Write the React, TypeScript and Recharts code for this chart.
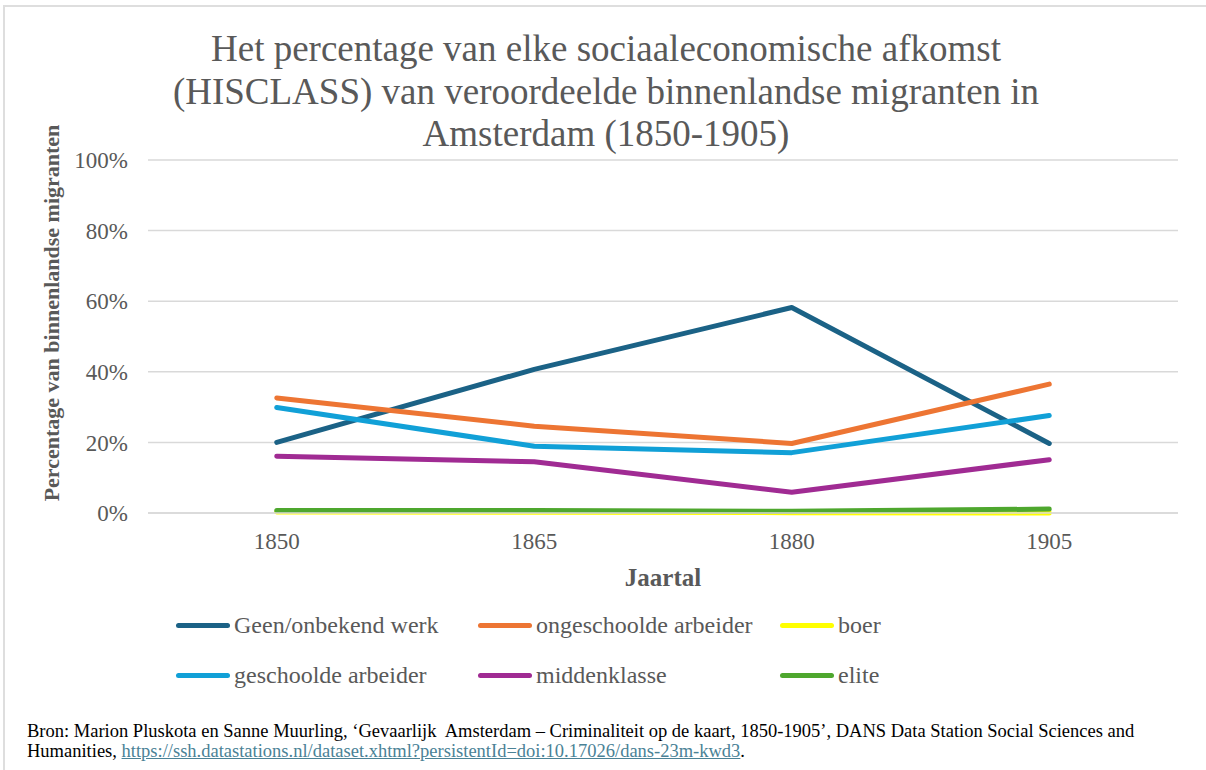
import React from "react";
import { LineChart, Line, XAxis, YAxis, CartesianGrid } from "recharts";

const years = ["1850", "1865", "1880", "1905"];
const geen = [20.0, 40.7, 58.2, 19.7];
const ongeschoold = [32.6, 24.6, 19.7, 36.5];
const boer = [0.3, 0.2, 0.1, 0.0];
const geschoold = [29.9, 18.9, 17.1, 27.6];
const midden = [16.1, 14.5, 5.9, 15.1];
const elite = [0.7, 0.7, 0.5, 1.1];
const yTicks = [0, 20, 40, 60, 80, 100];

const series = [
  { key: "geen", name: "Geen/onbekend werk", color: "#1B6286", values: geen },
  { key: "ongeschoold", name: "ongeschoolde arbeider", color: "#ED7533", values: ongeschoold },
  { key: "boer", name: "boer", color: "#FFFF00", values: boer },
  { key: "geschoold", name: "geschoolde arbeider", color: "#11A0D7", values: geschoold },
  { key: "midden", name: "middenklasse", color: "#A02B93", values: midden },
  { key: "elite", name: "elite", color: "#4EA72E", values: elite },
];

const data = years.map((year, i) => {
  const row: Record<string, string | number> = { year };
  series.forEach((s) => (row[s.key] = s.values[i]));
  return row;
});

const GREY = "#595959";
const legendCols = [176, 478, 780];
const legendRows = [625, 675];

export default function App() {
  return (
    <div
      style={{
        position: "absolute",
        left: 0,
        top: 0,
        width: 1206,
        height: 770,
        background: "#fff",
        fontFamily: "'Liberation Serif', 'Times New Roman', serif",
        overflow: "hidden",
      }}
    >
      {/* page frame */}
      <div
        style={{
          position: "absolute",
          left: 3,
          top: 5,
          right: 0,
          bottom: 0,
          borderTop: "2px solid #dedede",
          borderLeft: "2px solid #dedede",
        }}
      />

      <div
        style={{
          position: "absolute",
          left: 3,
          top: 28,
          width: 1206,
          textAlign: "center",
          fontSize: 37,
          lineHeight: "42.5px",
          color: GREY,
        }}
      >
        Het percentage van elke sociaaleconomische afkomst
        <br />
        (HISCLASS) van veroordeelde binnenlandse migranten in
        <br />
        Amsterdam (1850-1905)
      </div>

      <div style={{ position: "absolute", left: 0, top: 0 }}>
        <LineChart
          width={1206}
          height={560}
          data={data}
          margin={{ top: 160, right: 28, bottom: 0, left: 0 }}
        >
          <CartesianGrid vertical={false} stroke="#d9d9d9" strokeWidth={1.5} />
          <XAxis
            dataKey="year"
            height={47}
            padding={{ left: 128.75, right: 128.75 }}
            axisLine={{ stroke: "#d9d9d9", strokeWidth: 1.5 }}
            tickLine={false}
            tickMargin={14}
            tick={{ fill: GREY, fontSize: 23, fontFamily: "'Liberation Serif', serif" }}
          />
          <YAxis
            width={148}
            domain={[0, 100]}
            ticks={yTicks}
            tickFormatter={(v: number) => `${v}%`}
            axisLine={false}
            tickLine={false}
            tickMargin={14}
            tick={{ fill: GREY, fontSize: 23, fontFamily: "'Liberation Serif', serif" }}
          />
          {series.map((s) => (
            <Line
              key={s.key}
              type="linear"
              dataKey={s.key}
              name={s.name}
              stroke={s.color}
              strokeWidth={5}
              strokeLinecap="round"
              strokeLinejoin="round"
              dot={false}
              activeDot={false}
              isAnimationActive={false}
            />
          ))}
        </LineChart>
      </div>

      <div
        style={{
          position: "absolute",
          left: 52,
          top: 313,
          transform: "translate(-50%, -50%) rotate(-90deg)",
          whiteSpace: "nowrap",
          fontSize: 22,
          fontWeight: "bold",
          color: GREY,
        }}
      >
        Percentage van binnenlandse migranten
      </div>

      <div
        style={{
          position: "absolute",
          left: 663,
          top: 578,
          transform: "translate(-50%, -50%)",
          fontSize: 25,
          fontWeight: "bold",
          color: GREY,
        }}
      >
        Jaartal
      </div>

      {series.map((s, i) => (
        <div
          key={s.key}
          style={{
            position: "absolute",
            left: legendCols[i % 3],
            top: legendRows[Math.floor(i / 3)] - 15,
            height: 30,
            display: "flex",
            alignItems: "center",
            whiteSpace: "nowrap",
            fontSize: 24,
            color: GREY,
          }}
        >
          <span
            style={{
              display: "inline-block",
              width: 54,
              height: 5,
              borderRadius: 3,
              background: s.color,
              marginRight: 4,
            }}
          />
          {s.name}
        </div>
      ))}

      <div
        style={{
          position: "absolute",
          left: 27,
          top: 721,
          fontSize: 18.5,
          lineHeight: "20px",
          color: "#000",
          whiteSpace: "nowrap",
        }}
      >
        Bron: Marion Pluskota en Sanne Muurling, ‘Gevaarlijk&nbsp; Amsterdam – Criminaliteit op de kaart,
        1850-1905’, DANS Data Station Social Sciences and
        <br />
        Humanities,{" "}
        <span style={{ color: "#4a8296", textDecoration: "underline" }}>
          https://ssh.datastations.nl/dataset.xhtml?persistentId=doi:10.17026/dans-23m-kwd3
        </span>
        .
      </div>
    </div>
  );
}
